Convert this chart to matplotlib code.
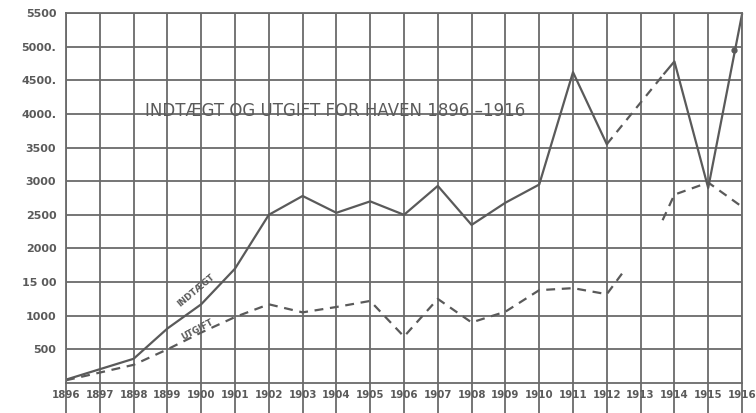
import matplotlib
matplotlib.use("Agg")
import matplotlib.pyplot as plt
import numpy as np

# values (kroner)
years = list(range(1896, 1917))
year_labels = [str(y) for y in years]
y_ticks = [500, 1000, 1500, 2000, 2500, 3000, 3500, 4000, 4500, 5000, 5500]
y_labels = ["500", "1000", "15 00", "2000", "2500", "3000", "3500",
            "4000.", "4500.", "5000.", "5500"]

# indtaegt (income), solid line
ind_years = [1896, 1898, 1899, 1900, 1901, 1902, 1903, 1904, 1905, 1906,
             1907, 1908, 1909, 1910, 1911, 1912]
ind_vals = [50, 360, 810, 1170, 1700, 2500, 2780, 2530, 2700, 2500,
            2930, 2350, 2680, 2950, 4620, 3550]
# dashed link 1912 -> 1914, then solid again
ind_gap_years = [1912, 1913.7]
ind_gap_vals = [3550, 4600]
ind_late_years = [1913.7, 1914, 1915, 1916]
ind_late_vals = [4600, 4780, 2900, 5480]
dot_year, dot_val = 1915.75, 4950

# utgift (expense), dashed line
utg_years = [1896, 1898, 1899, 1900, 1901, 1902, 1903, 1904, 1905, 1906,
             1907, 1908, 1909, 1910, 1911, 1912, 1912.5]
utg_vals = [40, 270, 500, 750, 980, 1170, 1050, 1130, 1220, 690,
            1250, 900, 1060, 1380, 1410, 1320, 1660]
utg_late_years = [1913.65, 1914, 1915, 1916]
utg_late_vals = [2420, 2800, 2980, 2620]

ink = "#5a5a5a"
grid_ink = "#6a6a6a"

fig = plt.figure(figsize=(7.56, 4.13), dpi=100, facecolor="white")
ax = fig.add_axes([66 / 756, 30 / 413, 676 / 756, 370 / 413])
ax.set_xlim(1896, 1916)
ax.set_ylim(0, 5500)

ax.set_xticks(years)
ax.set_xticklabels(year_labels)
ax.set_yticks(y_ticks)
ax.set_yticklabels(y_labels)
ax.grid(True, color=grid_ink, linewidth=1.3)
for s in ax.spines.values():
    s.set_color(grid_ink)
    s.set_linewidth(1.3)

ax.tick_params(axis="x", direction="out", length=22, width=1.3, color=grid_ink,
               pad=-17, labelsize=7.4, labelcolor=ink)
ax.tick_params(axis="y", length=0, pad=7, labelsize=8, labelcolor=ink)
for lab in ax.get_xticklabels() + ax.get_yticklabels():
    lab.set_fontweight("bold")
    lab.set_fontfamily("DejaVu Sans")

lw = 1.6
ax.plot(ind_years, ind_vals, color=ink, lw=lw)
ax.plot(ind_gap_years, ind_gap_vals, color=ink, lw=lw, ls=(0, (4, 3)))
ax.plot(ind_late_years, ind_late_vals, color=ink, lw=lw, clip_on=False)
ax.plot([dot_year], [dot_val], "o", color=ink, ms=3.5)

ax.plot(utg_years, utg_vals, color=ink, lw=lw, ls=(0, (4, 3)))
ax.plot(utg_late_years, utg_late_vals, color=ink, lw=lw, ls=(0, (4, 3)))

ax.text(1899.85, 1380, "INDTÆGT", rotation=40, fontsize=6.2, color=ink,
        fontweight="bold", ha="center", va="center")
ax.text(1899.9, 800, "UTGIFT", rotation=28, fontsize=6.2, color=ink,
        fontweight="bold", ha="center", va="center")

ax.text(1903.95, 4050, "INDTÆGT OG UTGIFT FOR HAVEN 1896 –1916",
        fontsize=12, color=ink, ha="center", va="center")

fig.savefig("out.png", dpi=100, facecolor="white")
